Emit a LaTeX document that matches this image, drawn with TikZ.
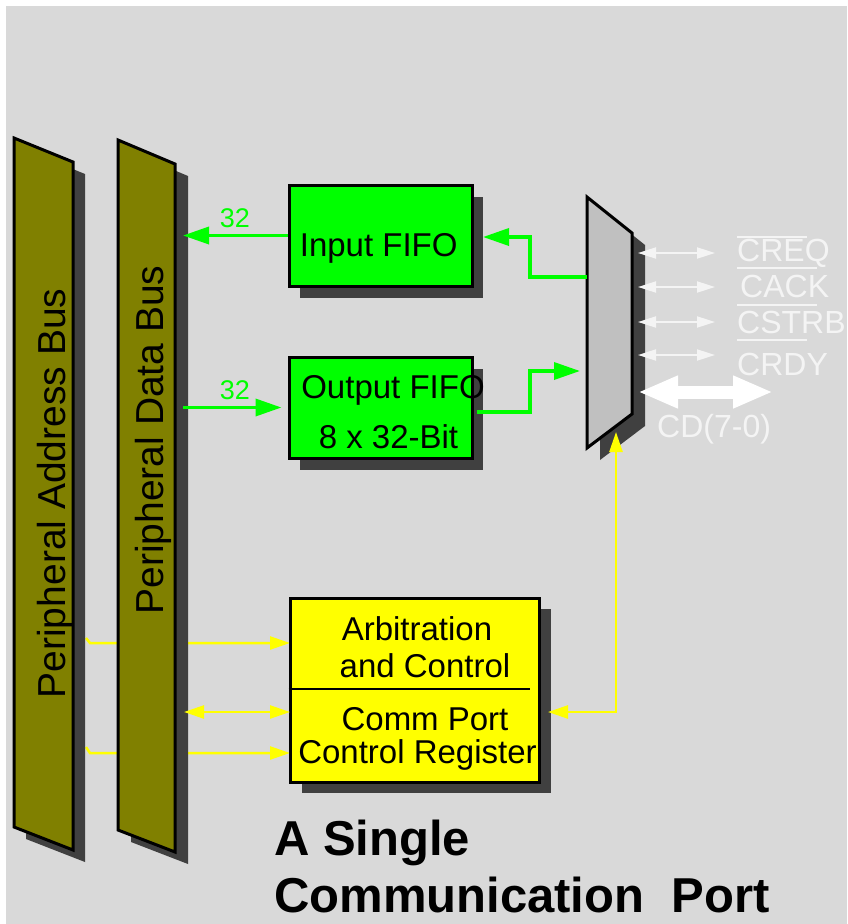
\documentclass[tikz,border=0pt]{standalone}
\usepackage{fontspec}
\setmainfont{Liberation Sans}
\usetikzlibrary{arrows.meta}
\definecolor{bg}{HTML}{D9D9D9}
\definecolor{olivebus}{HTML}{808000}
\definecolor{shade}{HTML}{404040}
\definecolor{fifogreen}{HTML}{00FF00}
\definecolor{ctrlyellow}{HTML}{FFFF00}
\definecolor{muxgray}{HTML}{C0C0C0}
\definecolor{sigwhite}{HTML}{F4F4F4}
\begin{document}
\begin{tikzpicture}[x=1pt,y=-1pt,
  busshape/.style={fill=olivebus, draw=black, line width=3pt, line join=miter},
  shadowfill/.style={fill=shade},
  gbox/.style={draw=black, fill=fifogreen, line width=3pt, minimum width=183pt, minimum height=101pt, inner sep=0pt},
  ybox/.style={draw=black, fill=ctrlyellow, line width=3pt, minimum width=249pt, minimum height=184pt, inner sep=0pt},
  bustext/.style={font=\fontsize{39}{44}\selectfont, text=black, inner sep=0pt, rotate=90, anchor=base},
  boxtext/.style={font=\fontsize{33}{38}\selectfont, text=black, inner sep=0pt, anchor=base},
  numtext/.style={font=\fontsize{27}{30}\selectfont, text=fifogreen, inner sep=0pt, anchor=base},
  sigtext/.style={font=\fontsize{32}{36}\selectfont, text=sigwhite, inner sep=0pt, anchor=base west},
  titletext/.style={font=\fontsize{49}{54}\selectfont\bfseries, text=black, inner sep=0pt, anchor=base west},
  garrow/.style={draw=fifogreen, line width=3.5pt, -{Triangle[length=26pt,width=17pt]}},
  yarrow/.style={draw=ctrlyellow, line width=2.5pt, -{Triangle[length=20pt,width=13pt]}},
  ydarrow/.style={draw=ctrlyellow, line width=2.5pt, {Triangle[length=20pt,width=13pt]}-{Triangle[length=20pt,width=13pt]}},
  warrow/.style={draw=sigwhite, line width=2pt, {Triangle[length=18pt,width=11pt]}-{Triangle[length=18pt,width=11pt]}},
  cdarrow/.style={draw=white, line width=13pt, {Triangle[length=40pt,width=30pt]}-{Triangle[length=40pt,width=30pt]}},
  overbar/.style={draw=sigwhite, line width=2pt}
]
\useasboundingbox (0,0) rectangle (847,924);
\fill[bg] (6,6) rectangle (847,924);

% named connector ends
\coordinate (aj1) at (86,638);
\coordinate (aj1b) at (90,643);
\coordinate (aj2) at (86,747);
\coordinate (aj2b) at (90,753);
\coordinate (ct1) at (290,643);
\coordinate (ct2) at (290,712);
\coordinate (ct3) at (290,753);
\coordinate (dbedge) at (183,0);
\coordinate (dbY) at (184,712);

% address-bus lines (run behind the data bus)
\draw[yarrow] (aj1) -- (aj1b) -- (ct1);
\draw[yarrow] (aj2) -- (aj2b) -- (ct3);

% buses with shadows
\fill[shadowfill] (26,150) -- (85,174) -- (85,862) -- (26,839) -- cycle;
\draw[busshape] (14,138) -- (73,162) -- (73,850) -- (14,827) -- cycle;
\fill[shadowfill] (131,152) -- (188,176) -- (188,864) -- (131,842) -- cycle;
\draw[busshape] (118,140) -- (175,164) -- (175,852) -- (118,830) -- cycle;
\node[bustext] (abustxt) at (65,493.5) {Peripheral Address Bus};
\node[bustext] (dbustxt) at (163,440) {Peripheral Data Bus};

% FIFOs
\fill[shadowfill] (300,197) rectangle (483,298);
\node[gbox] (infifo) at (380.5,235.5) {};
\node[boxtext] (infifotxt) at (378.7,256) {Input FIFO};
\fill[shadowfill] (300,369) rectangle (483,470);
\node[gbox] (outfifo) at (380.5,407.5) {};
\node[boxtext] (outfifotxt) at (393,398) {Output FIFO};
\node[boxtext] (outfifotxt2) at (388.5,448) {8 x 32-Bit};

% control block
\fill[shadowfill] (302,609) rectangle (551,793);
\node[ybox] (ctrl) at (414.5,690) {};
\draw[line width=2pt] (ctrl.west |- 0,689) -- (530,689);
\node[boxtext] (arb1) at (417,640) {Arbitration};
\node[boxtext] (arb2) at (425,677) {and Control};
\node[boxtext] (reg1) at (425,730) {Comm Port};
\node[boxtext] (reg2) at (417.5,763) {Control Register};

% multiplexer
\fill[shadowfill] (600,209) -- (645,245) -- (645,426) -- (600,460) -- cycle;
\draw[fill=muxgray, line width=3pt, line join=miter] (587,197) -- (632,233) -- (632,414) -- (587,448) -- cycle;
\coordinate (muxA) at (587,277);
\coordinate (jA) at (530,237);
\coordinate (infR) at (483,237);
\coordinate (outR) at (477,412);
\coordinate (jB) at (530,371);
\coordinate (muxB) at (580,371);
\coordinate (muxBot) at (616,432);
\coordinate (ctR) at (548,712);

% green data paths
\draw[garrow] (infifo.west) -- (infifo.west -| dbedge);
\draw[garrow] (outfifo.west -| dbedge) -- ([xshift=-6pt]outfifo.west);
\node[numtext] (n32a) at (235,227) {32};
\node[numtext] (n32b) at (235,399) {32};
\draw[garrow, line join=miter] (muxA) -| (jA) -- (infR);
\draw[garrow, line join=miter] (outR) -| (jB) -- (muxB);

% yellow control paths
\draw[ydarrow] (dbY) -- (ct2);
\draw[ydarrow, line join=miter] (muxBot) |- (ctR);

% port signals
\coordinate (w1a) at (638,253); \coordinate (w1b) at (715,253);
\coordinate (w2a) at (638,287); \coordinate (w2b) at (715,287);
\coordinate (w3a) at (638,322); \coordinate (w3b) at (715,322);
\coordinate (w4a) at (638,355); \coordinate (w4b) at (715,355);
\coordinate (cda) at (638,392); \coordinate (cdb) at (773,392);
\draw[warrow] (w1a) -- (w1b);
\draw[warrow] (w2a) -- (w2b);
\draw[warrow] (w3a) -- (w3b);
\draw[warrow] (w4a) -- (w4b);
\draw[cdarrow] (cda) -- (cdb);
\node[sigtext] (creq) at (737,261) {CREQ};
\node[sigtext] (cack) at (740,297) {CACK};
\node[sigtext] (cstrb) at (737,333) {CSTRB};
\node[sigtext] (crdy) at (737,375) {CRDY};
\node[sigtext] (cd) at (657,437) {CD(7-0)};
\draw[overbar] (737,237) -- (807,237);
\draw[overbar] (737,268) -- (817,268);
\draw[overbar] (737,305) -- (817,305);
\draw[overbar] (737,340) -- (807,340);

% title
\node[titletext] (title1) at (274,855) {A Single};
\node[titletext] (title2) at (274,912) {Communication\ \ Port};
\end{tikzpicture}
\end{document}
